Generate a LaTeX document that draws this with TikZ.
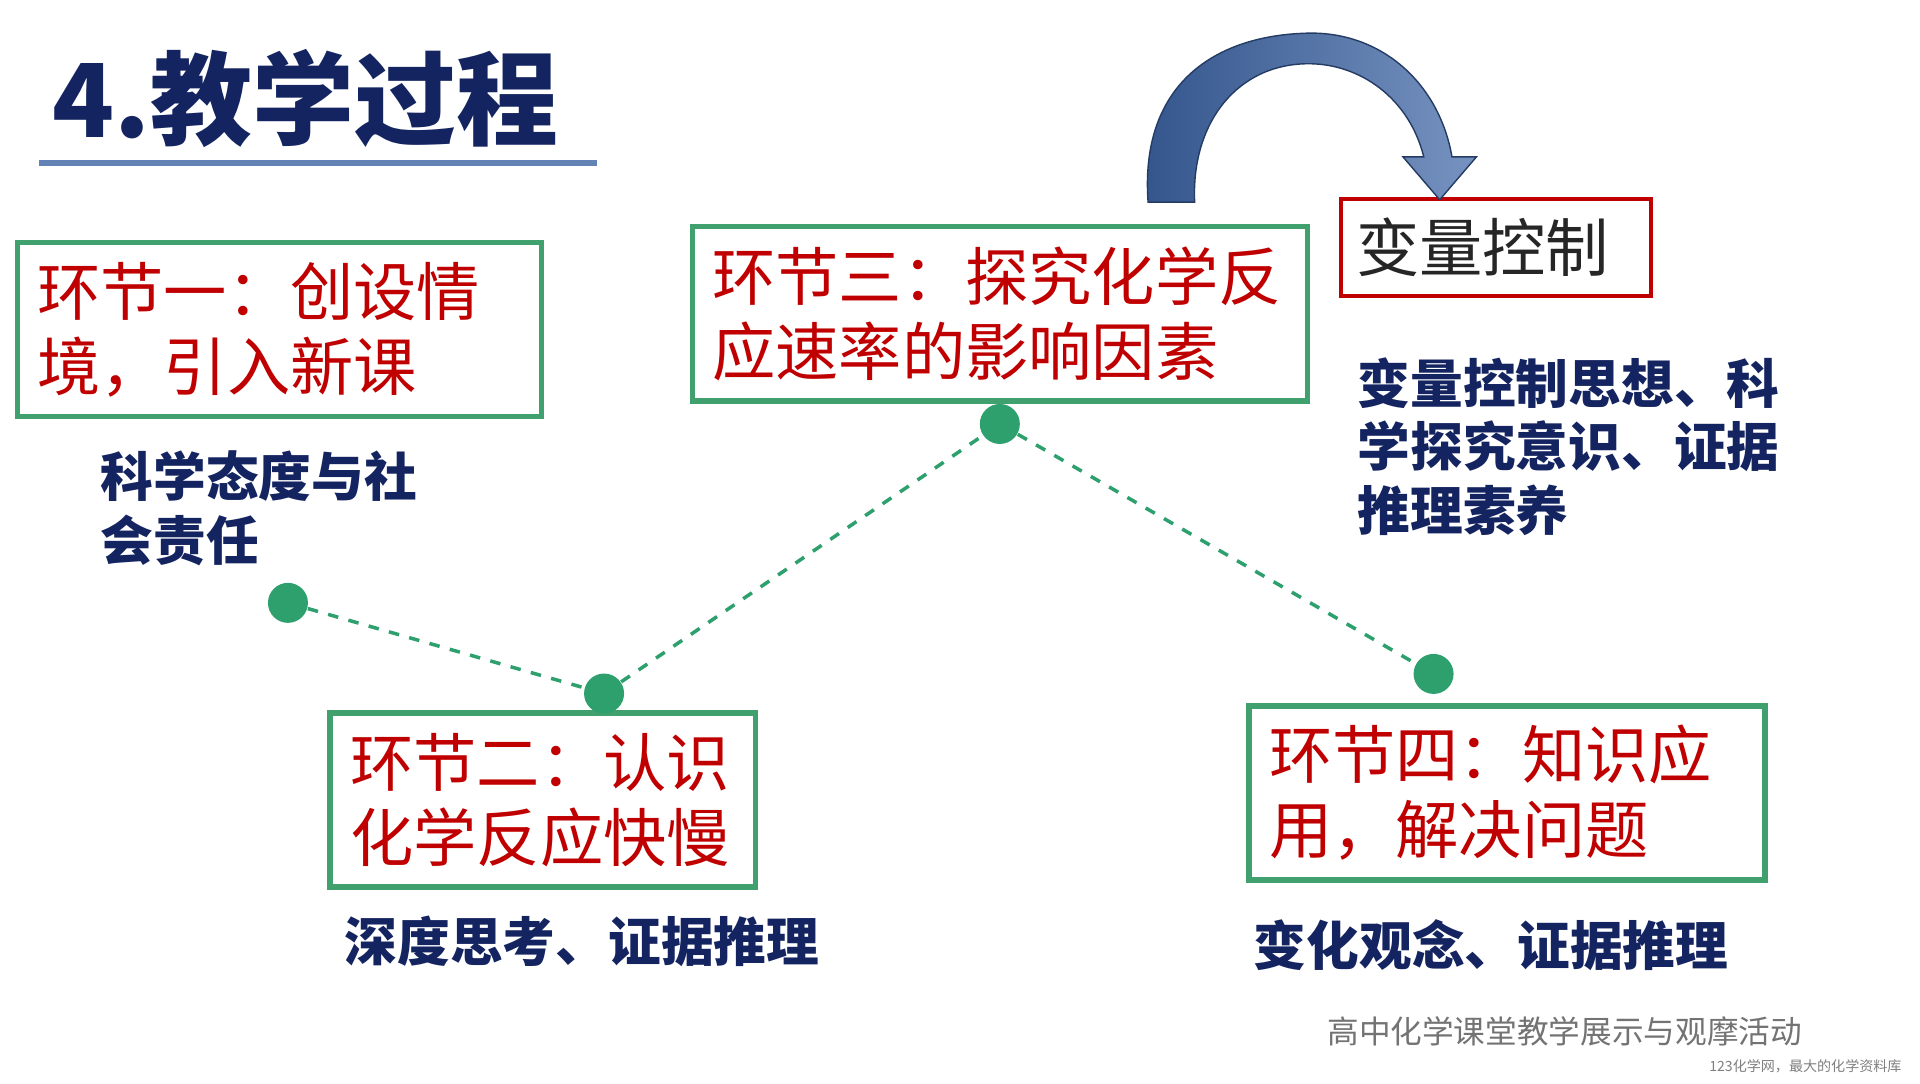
\documentclass[tikz,border=0pt]{standalone}
\usepackage{fontspec}
\newfontfamily\cjk{Noto Sans CJK SC}
\usetikzlibrary{positioning,calc}
\definecolor{boxgreen}{RGB}{64,160,110}
\definecolor{txtred}{RGB}{192,0,0}
\definecolor{navy}{RGB}{20,36,96}
\definecolor{dotgreen}{RGB}{46,160,110}
\definecolor{arrowblue}{RGB}{60,100,165}
\tikzset{
  stage/.style={draw=boxgreen, line width=1.6pt, text=txtred, font=\cjk\fontsize{18}{21.5}\selectfont,
    align=left, minimum height=1.74cm, inner xsep=0.2cm},
  note/.style={text=navy, font=\cjk\bfseries\fontsize{15}{18}\selectfont, align=left},
  dot/.style={circle, fill=dotgreen, minimum size=0.4cm, inner sep=0pt},
  link/.style={dotgreen, dashed, line width=1pt}
}
\begin{document}
\begin{tikzpicture}[x=0.01225cm,y=-0.01225cm]
    \useasboundingbox[fill=white] (0,0) rectangle (1567,884);
    % title
    \node[text=navy, font=\cjk\bfseries\fontsize{29}{36}\selectfont, anchor=west] (title) at (33,80) {4.教学过程};
    \draw[arrowblue!80, line width=1.5pt] (32,133) -- (487,133);

    % stages
    \node[stage, minimum width=5.24cm, text width=4.84cm] (s1) at (228,269) {环节一：创设情\\境，引入新课};
    \node[stage, minimum width=4.25cm, text width=3.85cm] (s2) at (443,653) {环节二：认识\\化学反应快慢};
    \node[stage, minimum width=6.15cm, text width=5.75cm] (s3) at (816,256) {环节三：探究化学反\\应速率的影响因素};
    \node[stage, minimum width=5.16cm, text width=4.76cm] (s4) at (1230,647) {环节四：知识应\\用，解决问题};
    \node[draw=txtred, line width=1.2pt, minimum width=3.10cm, minimum height=0.97cm, text width=2.8cm,
      align=left, font=\cjk\fontsize{18}{22}\selectfont, text=black!85] (ctrl) at (1221,202) {变量控制};

    % notes
    \node[note, anchor=north west] (n1) at (72,358) {科学态度与社\\会责任};
    \node[note] (n2) at (475,768) {深度思考、证据推理};
    \node[note, anchor=north west] (n3) at (1098,282) {变量控制思想、科\\学探究意识、证据\\推理素养};
    \node[note] (n4) at (1217,771) {变化观念、证据推理};

    % dots
    \node[dot] (d1) at (235,492) {};
    \node[dot] (d2) at (493,566) {};
    \node[dot] (d3) at (816,346) {};
    \node[dot] (d4) at (1170,550) {};
    \draw[link] (d1) -- (d2);
    \draw[link] (d2) -- (d3);
    \draw[link] (d3) -- (d4);

    % curved arrow
    \shade[left color=arrowblue!85!black, right color=arrowblue!70!white, draw=arrowblue!60!black, line width=0.4pt]
      (937,165) .. controls (930,70) and (990,28) .. (1070,27)
      .. controls (1130,27) and (1175,70) .. (1185,128)
      -- (1205,128) -- (1175,163) -- (1145,128) -- (1162,128)
      .. controls (1150,80) and (1110,52) .. (1068,52)
      .. controls (1010,52) and (972,100) .. (975,165) -- cycle;

    % footer
    \node[text=black!55, font=\cjk\fontsize{9}{11}\selectfont] (foot) at (1277,842) {高中化学课堂教学展示与观摩活动};
    \node[text=black!50, font=\cjk\fontsize{4}{5}\selectfont, anchor=east] (site) at (1562,870) {123化学网，最大的化学资料库};
\end{tikzpicture}
\end{document}
